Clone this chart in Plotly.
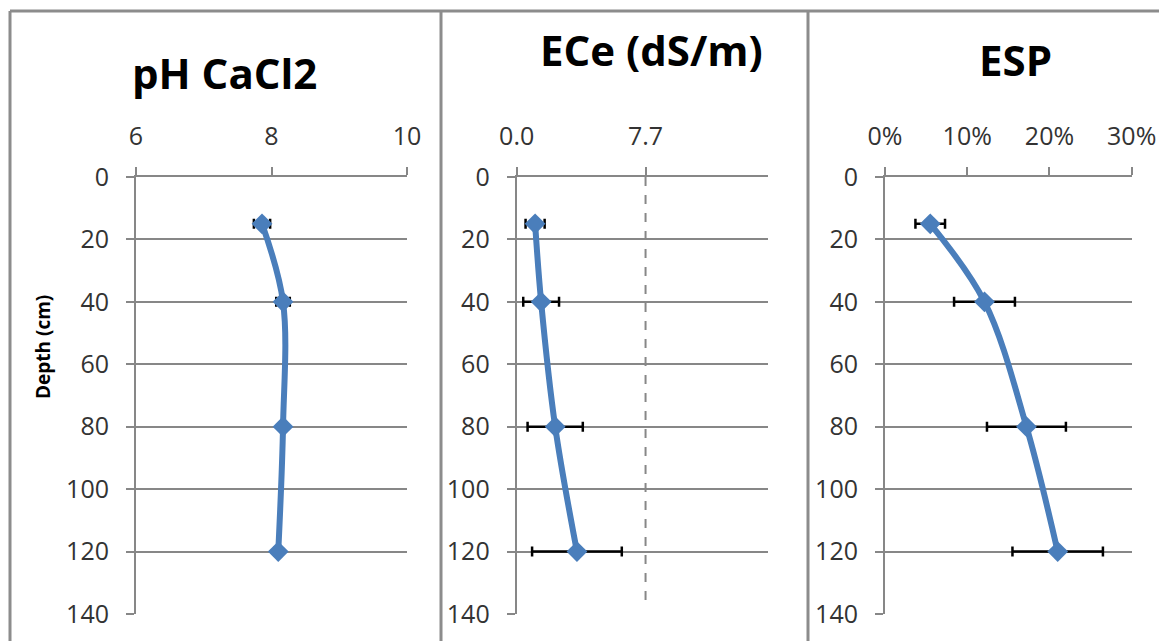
import plotly.graph_objects as go

# ---- data ----
depth = [15, 40, 80, 120]
ph_vals = [7.86, 8.17, 8.17, 8.10]
ph_err = [0.12, 0.10, 0.05, 0.05]
ece_vals = [1.10, 1.46, 2.30, 3.60]
ece_err = [0.57, 1.07, 1.65, 2.68]
esp_vals = [0.055, 0.121, 0.172, 0.210]
esp_err = [0.018, 0.037, 0.048, 0.055]
ece_limit = [7.7, 7.7]
ece_limit_depth = [0, 137]
titles = ["pH CaCl2", "ECe (dS/m)", "ESP"]
depth_ticks = [0, 20, 40, 60, 80, 100, 120, 140]
ph_ticks = [6, 8, 10]
ece_ticks = [0.0, 7.7]
esp_ticks = [0.0, 0.1, 0.2, 0.3]

W, H = 1167, 641
OFF = 8  # page body margin offset
BLUE = "#4A7EBB"
GRAY = "#878787"
FONT = "Open Sans"

def px(x):
    return (x - OFF) / W

def py(y):
    return 1 - (y - OFF) / H

fig = go.Figure()

series = [(ph_vals, ph_err, "x", "y"),
          (ece_vals, ece_err, "x2", "y2"),
          (esp_vals, esp_err, "x3", "y3")]

# dashed limit line in ECe panel
fig.add_trace(go.Scatter(x=ece_limit, y=ece_limit_depth, mode="lines",
                         line=dict(color=GRAY, width=2, dash="dash"),
                         xaxis="x2", yaxis="y2", hoverinfo="skip"))

for vals, err, xa, ya in series:
    fig.add_trace(go.Scatter(
        x=vals, y=depth, mode="lines+markers",
        line=dict(color=BLUE, width=6, shape="spline"),
        marker=dict(symbol="diamond", size=16, color=BLUE),
        error_x=dict(type="data", array=err, visible=True,
                     color="black", thickness=2.5, width=5),
        xaxis=xa, yaxis=ya))

domains = [(136, 407), (516.7, 767.7), (885, 1131.7)]
ydom = [py(614), py(177)]

xcfg = [
    dict(range=[6, 10], tickvals=ph_ticks, tickformat="d"),
    dict(range=[0, 15], tickvals=ece_ticks, tickformat=".1f"),
    dict(range=[0, 0.30], tickvals=esp_ticks, tickformat=".0%"),
]

layout = dict(
    width=W, height=H, autosize=False,
    margin=dict(l=0, r=0, t=0, b=0, pad=0, autoexpand=False),
    paper_bgcolor="white", plot_bgcolor="white",
    showlegend=False,
    font=dict(family=FONT, color="#222222"),
)

for i, (d, cfg) in enumerate(zip(domains, xcfg)):
    sfx = "" if i == 0 else str(i + 1)
    layout["xaxis" + sfx] = dict(
        domain=[px(d[0]), px(d[1])], anchor="y" + sfx, side="top",
        showgrid=False, zeroline=False, showline=True,
        linecolor=GRAY, linewidth=2,
        ticks="outside", ticklen=8, tickwidth=2, tickcolor=GRAY,
        tickfont=dict(size=25, family=FONT, color="#333333"),
        ticklabelstandoff=12, fixedrange=True, automargin=False, **cfg)
    layout["yaxis" + sfx] = dict(
        domain=ydom, anchor="x" + sfx, range=[140, 0],
        tickvals=depth_ticks, showgrid=True, gridcolor=GRAY, gridwidth=2,
        zeroline=False, showline=True, linecolor=GRAY, linewidth=2,
        ticks="outside", ticklen=8, tickwidth=2, tickcolor=GRAY,
        tickfont=dict(size=25, family=FONT, color="#333333"),
        ticklabelstandoff=12, fixedrange=True, automargin=False)

fig.update_layout(**layout)

# panel titles
title_pos = [(225, 72), (651, 50), (1015, 60)]
for t, (tx, ty) in zip(titles, title_pos):
    fig.add_annotation(text="<b>%s</b>" % t, x=px(tx), y=py(ty),
                       xref="paper", yref="paper", showarrow=False,
                       xanchor="center", yanchor="middle",
                       font=dict(size=42, family=FONT, color="black"))

fig.add_annotation(text="<b>Depth (cm)</b>", x=px(43), y=py(347),
                   xref="paper", yref="paper", showarrow=False,
                   textangle=-90, xanchor="center", yanchor="middle",
                   font=dict(size=19, family=FONT, color="black"))

# chart borders
BORDER = "#8C8C8C"
for x0, y0, x1, y1 in [(10, 11, 1175, 11), (10, 11, 10, 650),
                       (441, 11, 441, 650), (808, 11, 808, 650)]:
    fig.add_shape(type="line", xref="paper", yref="paper",
                  x0=px(x0), y0=py(y0), x1=px(x1), y1=py(y1),
                  line=dict(color=BORDER, width=3))

fig.write_html("out.html", config={"responsive": False})
